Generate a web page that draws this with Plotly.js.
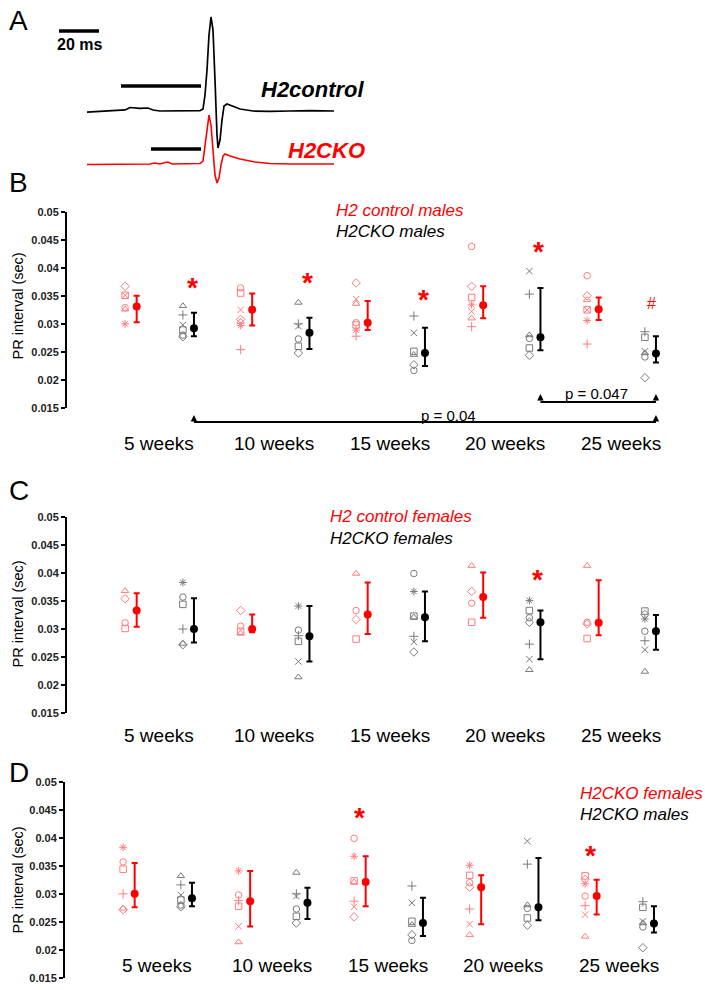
<!DOCTYPE html>
<html><head><meta charset="utf-8">
<script src="https://cdn.plot.ly/plotly-3.0.1.min.js"></script>
<style>html,body{margin:0;padding:0;background:#fff}</style>
</head><body><div id="chart" style="width:705px;height:990px"></div>
<script>
// ---------------- DATA ----------------
const weekLabels = ['5 weeks','10 weeks','15 weeks','20 weeks','25 weeks'];
const yTickVals = [0.015,0.02,0.025,0.03,0.035,0.04,0.045,0.05];
const yTickText = ['0.015','0.02','0.025','0.03','0.035','0.04','0.045','0.05'];

// Panel A: example ECG traces (time in ms, amplitude in arbitrary units)
const ctrlTime = [0,6.5,14,19,21.5,24,26.5,30.5,33,36.5,44,51.5,56.5,58,59,60,61,62,63,64,64.5,65,65.5,66.5,67.5,68.5,70,72.5,76.5,83,91.5,101.5,111.5,123.5];
const ctrlAmp  = [-0.011,-0.005,0,0.011,0.037,0.032,0.027,0.032,0.011,0,0,0.005,0.005,0.021,0.17,0.436,0.809,1.0,0.862,0.33,0,-0.255,-0.394,-0.309,-0.096,0.053,0.074,0.053,0.021,0,-0.005,0,0.005,0];
const ckoTime  = [0,16.5,31.5,34,36.5,39,40.5,42.5,46.5,54,56.5,58,59,60,61,62,63,64,65,66,67,68,69,71.5,76.5,84,91.5,101.5,123.5];
const ckoAmp   = [-0.569,-0.569,-0.564,-0.553,-0.564,-0.548,-0.543,-0.564,-0.564,-0.564,-0.559,-0.532,-0.362,-0.149,-0.043,-0.149,-0.468,-0.681,-0.766,-0.713,-0.574,-0.479,-0.457,-0.479,-0.511,-0.543,-0.559,-0.564,-0.564];
const prBarStart = [17, 32];      // ms
const prBarEnd   = [57, 57];      // ms
const prBarLevel = [0.266, -0.404];
const scaleBarMs = 20;

// H2 control males
const ctrlMalesPts = [
  [0.0367,0.0351,0.0351,0.0329,0.0326,0.0300],
  [0.0364,0.0355,0.0325,0.0308,0.0304,0.0297,0.0254],
  [0.0373,0.0344,0.0336,0.0302,0.0298,0.0289,0.0278],
  [0.0438,0.0367,0.0347,0.0334,0.0322,0.0310,0.0295],
  [0.0386,0.0350,0.0343,0.0325,0.0325,0.0306,0.0264]
];
const ctrlMalesMean = [0.0331,0.0325,0.0302,0.0333,0.0326];
const ctrlMalesHi   = [0.0350,0.0354,0.0341,0.0367,0.0347];
const ctrlMalesLo   = [0.0303,0.0297,0.0289,0.0310,0.0307];

// H2CKO males
const ckoMalesPts = [
  [0.0332,0.0316,0.0298,0.0289,0.0280,0.0277],
  [0.0338,0.0300,0.0296,0.0273,0.0260,0.0248],
  [0.0314,0.0284,0.0251,0.0245,0.0227,0.0217],
  [0.0394,0.0353,0.0280,0.0274,0.0257,0.0244],
  [0.0286,0.0276,0.0251,0.0248,0.0241,0.0204]
];
const ckoMalesMean = [0.0292,0.0284,0.0248,0.0276,0.0247];
const ckoMalesHi   = [0.0320,0.0311,0.0293,0.0364,0.0278];
const ckoMalesLo   = [0.0278,0.0255,0.0225,0.0253,0.0231];

// H2 control females
const ctrlFemalesPts = [
  [0.0368,0.0354,0.0311,0.0301],
  [0.0333,0.0305,0.0296,0.0292],
  [0.0399,0.0333,0.0317,0.0282],
  [0.0413,0.0367,0.0346,0.0312],
  [0.0413,0.0312,0.0309,0.0283]
];
const ctrlFemalesMean = [0.0333,0.0300,0.0326,0.0357,0.0311];
const ctrlFemalesHi   = [0.0364,0.0326,0.0383,0.0401,0.0387];
const ctrlFemalesLo   = [0.0304,0.0294,0.0291,0.0320,0.0289];

// H2CKO females
const ckoFemalesPts = [
  [0.0383,0.0357,0.0344,0.0300,0.0274,0.0272],
  [0.0341,0.0298,0.0288,0.0278,0.0242,0.0214],
  [0.0399,0.0367,0.0323,0.0321,0.0287,0.0277,0.0259],
  [0.0351,0.0333,0.0320,0.0312,0.0273,0.0246,0.0227],
  [0.0332,0.0326,0.0318,0.0296,0.0279,0.0263,0.0224]
];
const ckoFemalesMean = [0.0300,0.0287,0.0321,0.0312,0.0296];
const ckoFemalesHi   = [0.0355,0.0341,0.0367,0.0333,0.0325];
const ckoFemalesLo   = [0.0276,0.0242,0.0278,0.0246,0.0263];

// significance markers: [week index, level]
const starsB = [[0,0.0375],[1,0.0384],[2,0.0355],[3,0.0439]];
const hashB  = [[4,0.0337]];
const starsC = [[3,0.0400]];
const starsD = [[2,0.0446],[4,0.0380]];

// ---------------- STYLE ----------------
const symCtrlMales = [['d','s','x','c','t','a'],['c','s','x','d','t','a','p'],['d','x','t','c','s','a','p'],['c','d','s','a','x','t','p'],['c','d','t','s','x','a','p']];
const symCkoMales = [['t','p','x','s','c','d'],['t','p','x','c','s','d'],['p','x','s','t','d','c'],['x','p','t','c','s','d'],['p','s','x','t','c','d']];
const symCtrlFemales = [['t','d','c','s'],['d','c','s','t'],['t','c','d','s'],['t','d','c','s'],['t','c','d','s']];
const symCkoFemales = [['a','c','s','p','t','d'],['a','c','p','s','x','t'],['c','a','s','t','p','x','d'],['a','s','c','d','p','x','t'],['s','d','a','c','p','x','t']];
const symMap = {c:'circle-open',s:'square-open',d:'diamond-open',t:'triangle-up-open',x:'x-thin-open',p:'cross-thin-open',a:'asterisk-open'};

const FONT = 'Liberation Sans, Arial, sans-serif';
const RED = '#ff0000', PINK = '#ff7c7c', GREY = '#7a7a7a', BLACK = '#000000';
const W = 705, H = 990;
const PX = x => x / W, PY = y => 1 - y / H;
const OFF = {redPts:-0.25, redMean:-0.15, blkPts:0.25, blkMean:0.346};

function groupTraces(pts, syms, mean, hi, lo, xa, ya, ptColor, meanColor, ptOff, meanOff) {
  const xs = [], ys = [], ss = [];
  pts.forEach((arr, i) => arr.forEach((v, j) => { xs.push(i + ptOff); ys.push(v); ss.push(symMap[syms[i][j]]); }));
  return [
    {type:'scatter', mode:'markers', x:xs, y:ys, xaxis:xa, yaxis:ya, hoverinfo:'skip', showlegend:false,
     marker:{symbol:ss, size:6.5, color:ptColor, line:{color:ptColor, width:1}}},
    {type:'scatter', mode:'markers', x:mean.map((m,i)=>i+meanOff), y:mean, xaxis:xa, yaxis:ya, hoverinfo:'skip', showlegend:false,
     marker:{symbol:'circle', size:8, color:meanColor},
     error_y:{type:'data', symmetric:false, array:hi.map((h,i)=>h-mean[i]), arrayminus:lo.map((l,i)=>mean[i]-l),
              color:meanColor, thickness:2, width:3}}
  ];
}

const traces = [];
// Panel A
traces.push({type:'scatter', mode:'lines', x:ckoTime, y:ckoAmp, xaxis:'x4', yaxis:'y4', line:{color:RED, width:1.6}, hoverinfo:'skip', showlegend:false});
traces.push({type:'scatter', mode:'lines', x:ctrlTime, y:ctrlAmp, xaxis:'x4', yaxis:'y4', line:{color:BLACK, width:1.7}, hoverinfo:'skip', showlegend:false});
// Panel B
traces.push(...groupTraces(ctrlMalesPts, symCtrlMales, ctrlMalesMean, ctrlMalesHi, ctrlMalesLo, 'x', 'y', PINK, RED, OFF.redPts, OFF.redMean));
traces.push(...groupTraces(ckoMalesPts, symCkoMales, ckoMalesMean, ckoMalesHi, ckoMalesLo, 'x', 'y', GREY, BLACK, OFF.blkPts, OFF.blkMean));
// Panel C
traces.push(...groupTraces(ctrlFemalesPts, symCtrlFemales, ctrlFemalesMean, ctrlFemalesHi, ctrlFemalesLo, 'x2', 'y2', PINK, RED, OFF.redPts, OFF.redMean));
traces.push(...groupTraces(ckoFemalesPts, symCkoFemales, ckoFemalesMean, ckoFemalesHi, ckoFemalesLo, 'x2', 'y2', GREY, BLACK, OFF.blkPts, OFF.blkMean));
// Panel D
traces.push(...groupTraces(ckoFemalesPts, symCkoFemales, ckoFemalesMean, ckoFemalesHi, ckoFemalesLo, 'x3', 'y3', PINK, RED, OFF.redPts, OFF.redMean));
traces.push(...groupTraces(ckoMalesPts, symCkoMales, ckoMalesMean, ckoMalesHi, ckoMalesLo, 'x3', 'y3', GREY, BLACK, OFF.blkPts, OFF.blkMean));

function yAxis(top, bottom, anchor) {
  return {domain:[PY(bottom), PY(top)], range:[0.015,0.05], anchor:anchor,
    tickvals:yTickVals, ticktext:yTickText, showline:true, linewidth:2, linecolor:'#000',
    ticks:'outside', ticklen:4, tickwidth:2, tickcolor:'#000', showgrid:false, zeroline:false,
    tickfont:{family:FONT, size:11, color:'#222', weight:'bold'}, fixedrange:true};
}
function xAxis(axisPx, centerPx, anchor) {
  const step = 115.5;
  return {domain:[PX(axisPx),1], range:[(axisPx-centerPx)/step, (W-centerPx)/step], anchor:anchor,
    visible:false, showgrid:false, zeroline:false, fixedrange:true};
}

const annotations = [];
const shapes = [];
function txt(x, y, text, size, opts) {
  annotations.push(Object.assign({xref:'paper', yref:'paper', x:PX(x), y:PY(y), text:text, showarrow:false,
    xanchor:'center', yanchor:'middle', font:{family:FONT, size:size, color:'#000'}}, opts||{}));
}
// panel letters
[['A',20],['B',183],['C',490],['D',772.5]].forEach(([l,y]) => txt(7, y, l, 28, {xanchor:'left'}));
// Panel A text
txt(79.5, 44.5, scaleBarMs + ' ms', 16, {font:{family:FONT,size:16,color:'#000',weight:'bold'}});
txt(367, 89, 'H2control', 22, {xanchor:'right', font:{family:FONT,size:22,color:'#000',weight:'bold',style:'italic'}});
txt(367, 151, 'H2CKO', 22, {xanchor:'right', font:{family:FONT,size:22,color:RED,weight:'bold',style:'italic'}});
shapes.push({type:'line', xref:'x4', yref:'y4', x0:-14, x1:-14+scaleBarMs, y0:0.851, y1:0.851, line:{color:'#000', width:3.5}});
prBarStart.forEach((s,i) => shapes.push({type:'line', xref:'x4', yref:'y4', x0:s, x1:prBarEnd[i], y0:prBarLevel[i], y1:prBarLevel[i], line:{color:'#000', width:3.5}}));

// y titles
[306, 614, 880].forEach(y => txt(17.5, y, 'PR interval (sec)', 14.5, {textangle:-90}));
// legends
const itl = (c) => ({xanchor:'left', font:{family:FONT,size:17,color:c,style:'italic'}});
txt(334, 210.5, 'H2 control males', 17, itl(RED));
txt(334, 232, 'H2CKO males', 17, itl('#000'));
txt(328, 516, 'H2 control females', 17, itl(RED));
txt(328, 538, 'H2CKO females', 17, itl('#000'));
txt(578, 793, 'H2CKO females', 17, itl(RED));
txt(578, 814, 'H2CKO males', 17, itl('#000'));

// week labels
[['x',443.5],['x2',735],['x3',965]].forEach(([xa,y]) => weekLabels.forEach((w,i) => annotations.push({
  xref:xa, yref:'paper', x:i+0.04, y:PY(y), text:w, showarrow:false, xanchor:'center', yanchor:'middle',
  font:{family:FONT, size:19, color:'#000'}})));

// significance stars
function stars(list, xa, ya, off) {
  list.forEach(([i,v]) => annotations.push({xref:xa, yref:ya, x:i+off, y:v, text:'*', showarrow:false,
    xanchor:'center', yanchor:'middle', yshift:-6, font:{family:FONT, size:28, color:RED, weight:'bold'}}));
}
stars(starsB, 'x', 'y', 0.33);
stars(starsC, 'x2', 'y2', 0.32);
stars(starsD, 'x3', 'y3', -0.2);
hashB.forEach(([i,v]) => annotations.push({xref:'x', yref:'y', x:i+0.31, y:v, text:'#', showarrow:false,
  xanchor:'center', yanchor:'middle', font:{family:FONT, size:16, color:RED}}));

// brackets (panel B)
function bracket(i0, i1, lineY, tipY, label, labelX, labelY) {
  const x0 = i0 + OFF.blkMean, x1 = i1 + OFF.blkMean;
  shapes.push({type:'line', xref:'x', yref:'paper', x0:x0, x1:x1, y0:PY(lineY), y1:PY(lineY), line:{color:'#000', width:2}});
  [x0,x1].forEach(x => annotations.push({xref:'x', yref:'paper', x:x, y:PY(tipY), text:'', showarrow:true,
    ax:0, ay:lineY-tipY, arrowhead:2, arrowsize:1, arrowwidth:1.3, arrowcolor:'#000'}));
  annotations.push({xref:'x', yref:'paper', x:labelX, y:PY(labelY), text:label, showarrow:false,
    xanchor:'center', yanchor:'middle', font:{family:FONT, size:15, color:'#000'}});
}
bracket(0, 4, 422, 415, 'p = 0.04', 2.55, 415.5);
bracket(3, 4, 402, 394, 'p = 0.047', 3.83, 393);

const layout = {
  width:W, height:H, margin:{l:0,r:0,t:0,b:0}, paper_bgcolor:'#fff', plot_bgcolor:'rgba(0,0,0,0)',
  showlegend:false, font:{family:FONT},
  xaxis: xAxis(67, 154, 'y'),
  yaxis: yAxis(211.7, 408, 'x'),
  xaxis2: xAxis(67, 154, 'y2'),
  yaxis2: yAxis(517, 713, 'x2'),
  xaxis3: xAxis(65, 152, 'y3'),
  yaxis3: yAxis(781.7, 978, 'x3'),
  xaxis4: {domain:[0,1], range:[-43.5, 309], anchor:'y4', visible:false, fixedrange:true},
  yaxis4: {domain:[PY(200),1], range:[-0.9468, 1.1809], anchor:'x4', visible:false, fixedrange:true},
  annotations: annotations, shapes: shapes
};
Plotly.newPlot('chart', traces, layout, {staticPlot:true, displayModeBar:false});
</script></body></html>
